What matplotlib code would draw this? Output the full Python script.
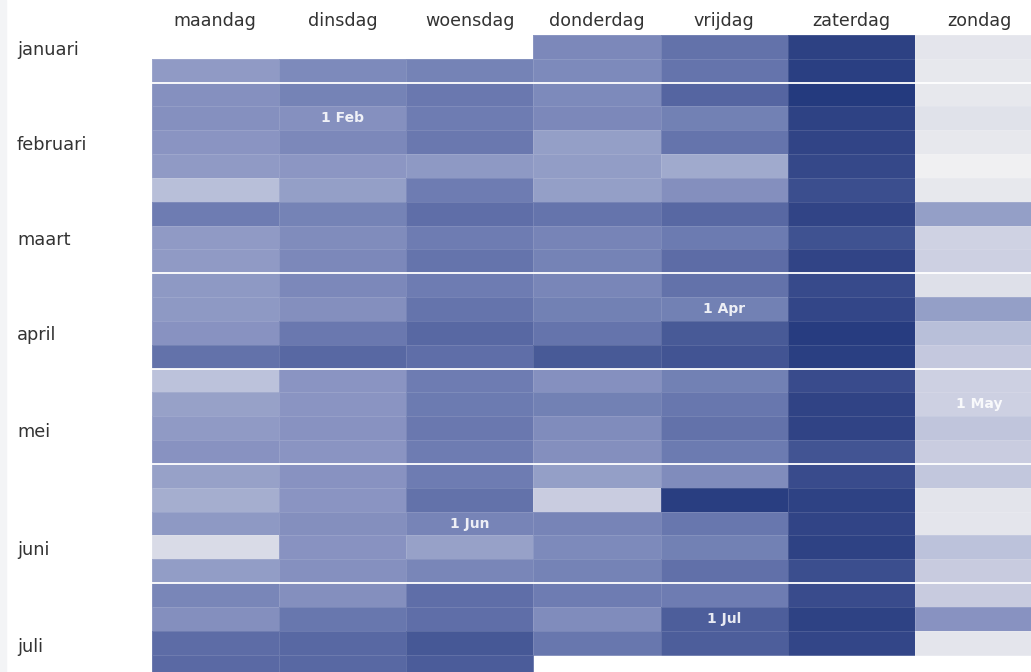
import numpy as np
import matplotlib.pyplot as plt
from matplotlib.colors import LinearSegmentedColormap
from matplotlib.patches import Rectangle
import matplotlib.transforms as mtransforms

days = ["maandag", "dinsdag", "woensdag", "donderdag", "vrijdag", "zaterdag", "zondag"]
months = ["januari", "februari", "maart", "april", "mei", "juni", "juli"]

nan = np.nan
# one row per week (ma..zo), relative intensity 0..1
weeks = [
    [nan, nan, nan, 0.57, 0.68, 0.93, 0.06],
    [0.47, 0.56, 0.60, 0.56, 0.67, 0.95, 0.05],
    [0.52, 0.60, 0.65, 0.56, 0.74, 1.00, 0.05],
    [0.52, 0.52, 0.63, 0.57, 0.61, 0.92, 0.08],
    [0.50, 0.57, 0.65, 0.45, 0.67, 0.90, 0.05],
    [0.47, 0.49, 0.48, 0.46, 0.40, 0.88, 0.00],
    [0.30, 0.45, 0.63, 0.45, 0.53, 0.85, 0.05],
    [0.63, 0.60, 0.70, 0.67, 0.73, 0.90, 0.45],
    [0.47, 0.55, 0.63, 0.59, 0.64, 0.83, 0.17],
    [0.47, 0.57, 0.67, 0.60, 0.71, 0.90, 0.18],
    [0.48, 0.57, 0.63, 0.58, 0.68, 0.87, 0.09],
    [0.48, 0.53, 0.67, 0.61, 0.61, 0.89, 0.45],
    [0.51, 0.65, 0.73, 0.67, 0.79, 0.98, 0.30],
    [0.68, 0.73, 0.70, 0.79, 0.82, 0.95, 0.23],
    [0.28, 0.50, 0.63, 0.52, 0.61, 0.86, 0.18],
    [0.44, 0.50, 0.64, 0.61, 0.66, 0.91, 0.18],
    [0.47, 0.51, 0.65, 0.55, 0.68, 0.91, 0.25],
    [0.51, 0.50, 0.63, 0.53, 0.64, 0.82, 0.20],
    [0.44, 0.51, 0.63, 0.45, 0.55, 0.86, 0.24],
    [0.38, 0.50, 0.68, 0.20, 0.96, 0.92, 0.07],
    [0.48, 0.53, 0.59, 0.59, 0.66, 0.90, 0.06],
    [0.12, 0.51, 0.44, 0.56, 0.61, 0.92, 0.28],
    [0.46, 0.52, 0.58, 0.60, 0.69, 0.85, 0.21],
    [0.58, 0.53, 0.70, 0.63, 0.63, 0.86, 0.21],
    [0.53, 0.66, 0.70, 0.55, 0.77, 0.92, 0.51],
    [0.71, 0.73, 0.80, 0.66, 0.77, 0.89, 0.06],
    [0.72, 0.73, 0.78, nan, nan, nan, nan],
]
month_breaks = [2, 10, 14, 18, 23]
first_days = [("1 Feb", 3, 1), ("1 Apr", 11, 4), ("1 May", 15, 6),
              ("1 Jun", 20, 2), ("1 Jul", 24, 4)]
# vertical spot of each month name, in week rows from the top
month_label_rows = [0.63, 4.62, 8.6, 12.59, 16.66, 21.6, 25.68]

cmap = LinearSegmentedColormap.from_list("cal", [
    (0.0, "#f0f0f2"), (0.1, "#dcdee8"), (0.2, "#c9cce0"), (0.3, "#b8bfd9"),
    (0.45, "#949fc7"), (0.5, "#8a94c2"), (0.6, "#7583b6"), (0.7, "#5f6ea8"),
    (0.8, "#465896"), (0.9, "#314486"), (1.0, "#243a7e")])

W, H = 1031, 672
fig = plt.figure(figsize=(W / 100, H / 100), dpi=100)
fig.patches.append(Rectangle((0, 0), 6 / W, 1, transform=fig.transFigure,
                             color="#f3f4f6", zorder=-1))

col_w, row_h = 127.3, 23.83
x0, y0 = 151.5, 35
nrows = 27
ax = fig.add_axes([x0 / W, 1 - (y0 + nrows * row_h) / H,
                   7 * col_w / W, nrows * row_h / H])
ax.set_axis_off()

data = np.ma.masked_invalid(np.array(weeks))
ax.pcolormesh(np.arange(8), np.arange(len(weeks) + 1), data, cmap=cmap,
              vmin=0, vmax=1, edgecolors=(1, 1, 1, 0.12), linewidth=0.4)
ax.set_xlim(0, 7)
ax.set_ylim(nrows, 0)
ax.hlines(month_breaks, 0, 7, color="white", linewidth=1.3)

for i, d in enumerate(days):
    ax.text(i + 0.5, -0.6, d, ha="center", va="center", fontsize=12.6,
            color="#333333", clip_on=False)

trans = mtransforms.blended_transform_factory(fig.transFigure, ax.transData)
for m, r in zip(months, month_label_rows):
    ax.text(17 / W, r, m, transform=trans, ha="left", va="center",
            fontsize=12.8, color="#333333", clip_on=False)

for label, r, c in first_days:
    ax.text(c + 0.5, r + 0.5, label, ha="center", va="center", fontsize=10,
            fontweight="bold", color="white", alpha=0.88)

fig.savefig("out.png", dpi=100)
